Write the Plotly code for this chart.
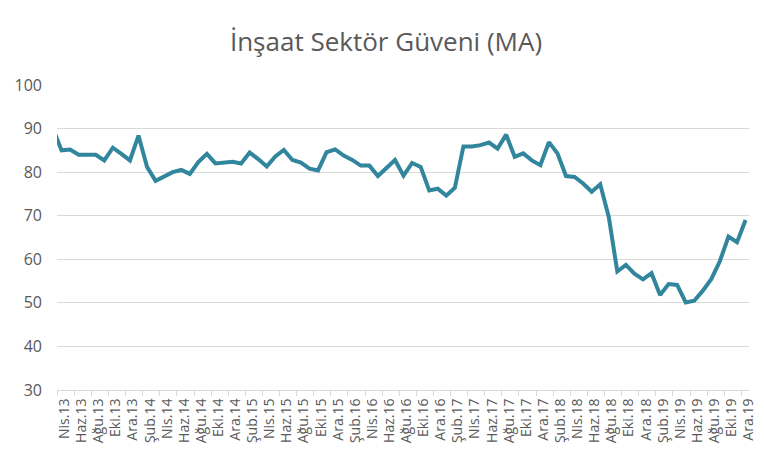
import plotly.graph_objects as go

months = ["Oca", "Şub", "Mar", "Nis", "May", "Haz", "Tem", "Ağu", "Eyl", "Eki", "Kas", "Ara"]

# Monthly series from Mar.13 to Ara.19
periods = [f"{months[(2 + k) % 12]}.{13 + (2 + k) // 12}" for k in range(82)]

values = [
    90.0, 85.0, 85.2, 84.0, 84.0, 84.0, 82.7, 85.6, 84.2, 82.7,
    88.4, 81.2, 78.0, 79.0, 80.0, 80.5, 79.6, 82.3, 84.2, 82.0,
    82.3, 82.4, 82.0, 84.5, 83.0, 81.3, 83.6, 85.1, 82.8, 82.2,
    80.8, 80.4, 84.6, 85.2, 83.8, 82.8, 81.5, 81.5, 79.1, 81.0,
    82.8, 79.2, 82.1, 81.2, 75.8, 76.2, 74.6, 76.4, 85.9, 85.9,
    86.2, 86.8, 85.4, 88.6, 83.5, 84.3, 82.7, 81.6, 86.9, 84.3,
    79.1, 78.9, 77.4, 75.5, 77.2, 69.7, 57.2, 58.7, 56.7, 55.4,
    56.8, 51.8, 54.3, 54.1, 50.1, 50.5, 52.8, 55.5, 59.6, 65.2,
    63.9, 69.0,
]

title_text = "İnşaat Sektör Güveni (MA)"
y_ticks = [30, 40, 50, 60, 70, 80, 90, 100]

idx = list(range(len(values)))
label_idx = [i + 0.35 for i in idx[1::2]]
label_text = [periods[i] for i in idx[1::2]]
boundary_ticks = [i + 0.5 for i in idx[0:-1:2]]

fig = go.Figure()
fig.add_trace(go.Scatter(
    x=idx, y=values, mode="lines",
    line=dict(color="#31859C", width=4),
    hoverinfo="skip",
))

# page body has an 8px margin; figure sized to fit the 764x458 window
fig.update_layout(
    width=756, height=450,
    margin=dict(l=49, r=15, t=77, b=68),
    paper_bgcolor="white", plot_bgcolor="white",
    showlegend=False,
    font=dict(family="Open Sans, Noto Sans, sans-serif", color="#595959"),
    title=dict(text=title_text, x=0.5, xanchor="center", y=0.924, yanchor="middle",
               font=dict(size=26, color="#595959")),
)
fig.update_xaxes(
    range=[0.47, 81.4],
    tickmode="array", tickvals=label_idx, ticktext=label_text,
    tickangle=-90, tickfont=dict(size=14, color="#595959"),
    ticks="", showgrid=False, zeroline=False,
    showline=True, linecolor="#D9D9D9", linewidth=1,
    minor=dict(tickmode="array", tickvals=boundary_ticks, ticks="outside",
               ticklen=5, tickcolor="#D9D9D9", tickwidth=1, showgrid=False),
    ticklabelstandoff=2,
    automargin=False,
)
fig.update_yaxes(
    range=[30, 100],
    tickmode="array", tickvals=y_ticks,
    tickfont=dict(size=16, color="#595959"),
    showgrid=True, gridcolor="#D9D9D9", gridwidth=1,
    zeroline=False, showline=False, ticks="",
    ticklabelstandoff=14,
    automargin=False,
)

fig.write_html("out.html")
